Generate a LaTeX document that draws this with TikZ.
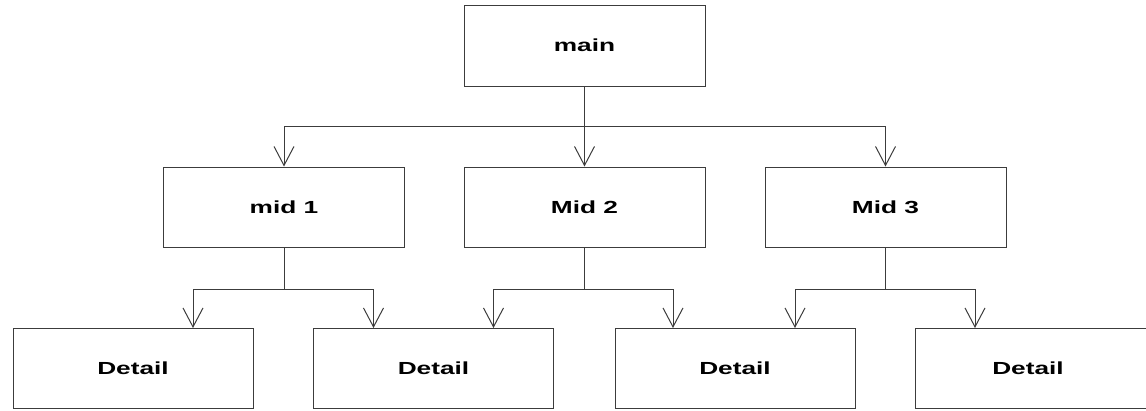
\documentclass[tikz,border=0pt]{standalone}
\usepackage{fontspec}
\newfontfamily\lblfont{Liberation Sans Bold}[FakeStretch=1.5]
\usetikzlibrary{arrows.meta}
\definecolor{edge}{HTML}{3C3C3C}
\tikzset{
  x=1pt, y=-1pt,
  lbl/.style={font=\fontsize{17.5}{20}\selectfont\lblfont, text=black},
  box/.style={lbl, draw=edge, line width=1pt, fill=white, inner sep=0pt},
  midbox/.style={box, minimum width=241pt, minimum height=80pt},
  detbox/.style={box, minimum width=240pt, minimum height=80pt},
  link/.style={draw=edge, line width=1pt},
  arr/.style={link, -{Straight Barb[length=19pt, width=20pt, line width=1pt]}},
}
\begin{document}
\begin{tikzpicture}
\useasboundingbox (0,0) rectangle (1146,410);

% top level
\node[midbox, minimum height=81pt] (main) at (584.5,45.5) {main};

% middle level
\node[midbox] (m1) at (284,207) {mid 1};
\node[midbox] (m2) at (584.5,207) {Mid 2};
\node[midbox] (m3) at (885.5,207) {Mid 3};

% detail level (last box runs past the right edge)
\node[detbox] (d1) at (133,368.5) {Detail};
\node[detbox] (d2) at (433.5,368.5) {Detail};
\node[detbox] (d3) at (735,368.5) {Detail};
\node[detbox, minimum width=250pt] (d4) at (1040,368.5) {};
\node[lbl] (d4t) at (1028,368.5) {Detail};

% branch points
\coordinate (j0) at (584.5,126);
\coordinate (j1) at (284,289);
\coordinate (j2) at (584.5,289);
\coordinate (j3) at (885.5,289);

% main to middle
\draw[link] (main.south) -- (j0);
\draw[arr] (j0) -- (m2.north);
\draw[arr] (j0) -| (m1.north);
\draw[arr] (j0) -| (m3.north);

% middle to detail
\draw[link] (m1.south) -- (j1);
\draw[arr] (j1) -| ([xshift=60pt]d1.north);
\draw[arr] (j1) -| ([xshift=-60pt]d2.north);

\draw[link] (m2.south) -- (j2);
\draw[arr] (j2) -| ([xshift=60pt]d2.north);
\draw[arr] (j2) -| ([xshift=-62pt]d3.north);

\draw[link] (m3.south) -- (j3);
\draw[arr] (j3) -| ([xshift=60pt]d3.north);
\draw[arr] (j3) -| ([xshift=-53pt]d4t.north |- d4.north);
\end{tikzpicture}
\end{document}
